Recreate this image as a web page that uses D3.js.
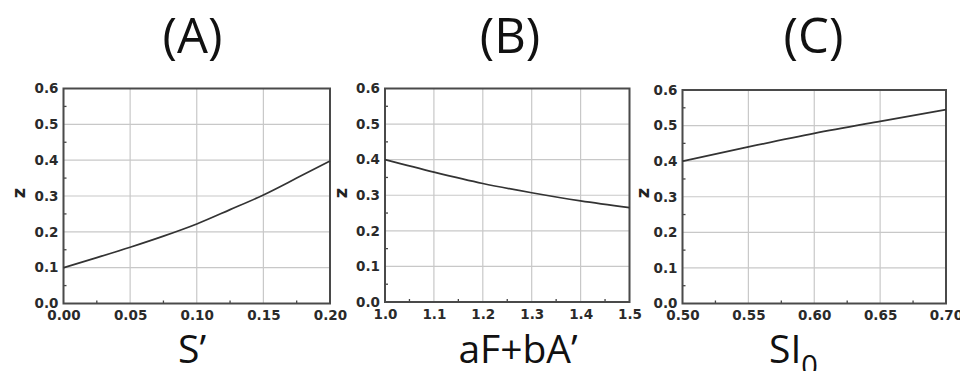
<!DOCTYPE html>
<html>
<head>
<meta charset="utf-8">
<script src="https://cdn.jsdelivr.net/npm/d3@7"></script>
<style>
  body { margin: 0; background: #fff; }
  .tick text { font-family: "DejaVu Sans", sans-serif; font-weight: bold; font-size: 13.5px; fill: #2a2a2a; }
</style>
</head>
<body>
<script>
// panel A: z vs S'
var sA = [0, 0.025, 0.05, 0.075, 0.10, 0.125, 0.15, 0.175, 0.20]
var zA = [0.100, 0.128, 0.157, 0.188, 0.222, 0.262, 0.303, 0.350, 0.398]
// panel B: z vs aF+bA'
var fB = [1.0, 1.1, 1.2, 1.3, 1.4, 1.5]
var zB = [0.400, 0.365, 0.333, 0.307, 0.284, 0.265]
// panel C: z vs SI0
var sC = [0.50, 0.55, 0.60, 0.65, 0.70]
var zC = [0.400, 0.440, 0.478, 0.512, 0.545]

var yTicks = [0, 0.1, 0.2, 0.3, 0.4, 0.5, 0.6]

var panels = [
  {title: "(A)", xs: sA, zs: zA, xdom: [0, 0.2], xticks: [0, 0.05, 0.1, 0.15, 0.2], fmt: ".2f",
   left: 63.5, right: 330, top: 88.5, bottom: 303.5, tx: 192.5, zx: 21},
  {title: "(B)", xs: fB, zs: zB, xdom: [1, 1.5], xticks: [1, 1.1, 1.2, 1.3, 1.4, 1.5], fmt: ".1f",
   left: 385, right: 629.5, top: 88.5, bottom: 302, tx: 510, zx: 343},
  {title: "(C)", xs: sC, zs: zC, xdom: [0.5, 0.7], xticks: [0.5, 0.55, 0.6, 0.65, 0.7], fmt: ".2f",
   left: 682.5, right: 946, top: 90, bottom: 303.5, tx: 813.5, zx: 645}
]

var svg = d3.select("body").append("svg")
  .attr("width", 960)
  .attr("height", 371)

panels.forEach(function(p, i) {
  var x = d3.scaleLinear().domain(p.xdom).range([p.left, p.right])
  var y = d3.scaleLinear().domain([0, 0.6]).range([p.bottom, p.top])
  var g = svg.append("g")

  // grid
  g.selectAll(".gx").data(p.xticks).enter().append("line")
    .attr("x1", d => x(d)).attr("x2", d => x(d))
    .attr("y1", p.top).attr("y2", p.bottom)
    .attr("stroke", "#c8c8c8").attr("stroke-width", 1.2)
  g.selectAll(".gy").data(yTicks).enter().append("line")
    .attr("x1", p.left).attr("x2", p.right)
    .attr("y1", d => y(d)).attr("y2", d => y(d))
    .attr("stroke", "#c8c8c8").attr("stroke-width", 1.2)

  // minor ticks (inside)
  var step = p.xticks[1] - p.xticks[0]
  var xmin = p.xticks.slice(0, -1).map(d => d + step / 2)
  g.selectAll(".mx").data(xmin).enter().append("line")
    .attr("x1", d => x(d)).attr("x2", d => x(d))
    .attr("y1", p.bottom).attr("y2", p.bottom - 3)
    .attr("stroke", "#444").attr("stroke-width", 1.3)
  var ymin = yTicks.slice(0, -1).map(d => d + 0.05)
  g.selectAll(".my").data(ymin).enter().append("line")
    .attr("x1", p.left).attr("x2", p.left + 3)
    .attr("y1", d => y(d)).attr("y2", d => y(d))
    .attr("stroke", "#444").attr("stroke-width", 1.3)

  // axes
  var xa = g.append("g").attr("transform", "translate(0," + p.bottom + ")")
    .call(d3.axisBottom(x).tickValues(p.xticks).tickFormat(d3.format(p.fmt)).tickSize(0).tickPadding(7))
  xa.select(".domain").remove()
  var ya = g.append("g").attr("transform", "translate(" + p.left + ",0)")
    .call(d3.axisLeft(y).tickValues(yTicks).tickFormat(d3.format(".1f")).tickSize(0).tickPadding(5))
  ya.select(".domain").remove()

  // frame
  g.append("rect")
    .attr("x", p.left).attr("y", p.top)
    .attr("width", p.right - p.left).attr("height", p.bottom - p.top)
    .attr("fill", "none").attr("stroke", "#4a4a4a").attr("stroke-width", 2)

  // curve
  var line = d3.line().x((d, j) => x(p.xs[j])).y(d => y(d)).curve(d3.curveMonotoneX)
  g.append("path").datum(p.zs)
    .attr("d", line)
    .attr("fill", "none").attr("stroke", "#333").attr("stroke-width", 1.7)

  // z label
  g.append("text")
    .attr("transform", "translate(" + (p.zx + 4) + ",193) rotate(-90)")
    .attr("text-anchor", "middle")
    .attr("font-family", "DejaVu Sans, sans-serif")
    .attr("font-weight", "bold").attr("font-size", 18).attr("fill", "#222")
    .text("z")

  // title
  g.append("text")
    .attr("x", p.tx).attr("y", 53)
    .attr("text-anchor", "middle")
    .attr("font-family", "Open Sans, sans-serif")
    .attr("font-size", 49).attr("fill", "#111")
    .text(p.title)
})

// x axis titles
var xl = [
  {x: 192, t: "S\u2019"},
  {x: 518, t: "aF+bA\u2019"}
]
svg.selectAll(".xl").data(xl).enter().append("text")
  .attr("x", d => d.x).attr("y", 363)
  .attr("text-anchor", "middle")
  .attr("font-family", "Open Sans, sans-serif")
  .attr("font-size", 39).attr("fill", "#111")
  .text(d => d.t)
var si = svg.append("text")
  .attr("x", 769).attr("y", 363)
  .attr("font-family", "Open Sans, sans-serif")
  .attr("font-size", 39).attr("fill", "#111")
si.append("tspan").text("SI")
si.append("tspan").attr("dy", 13).attr("font-size", 29).text("0")
</script>
</body>
</html>
